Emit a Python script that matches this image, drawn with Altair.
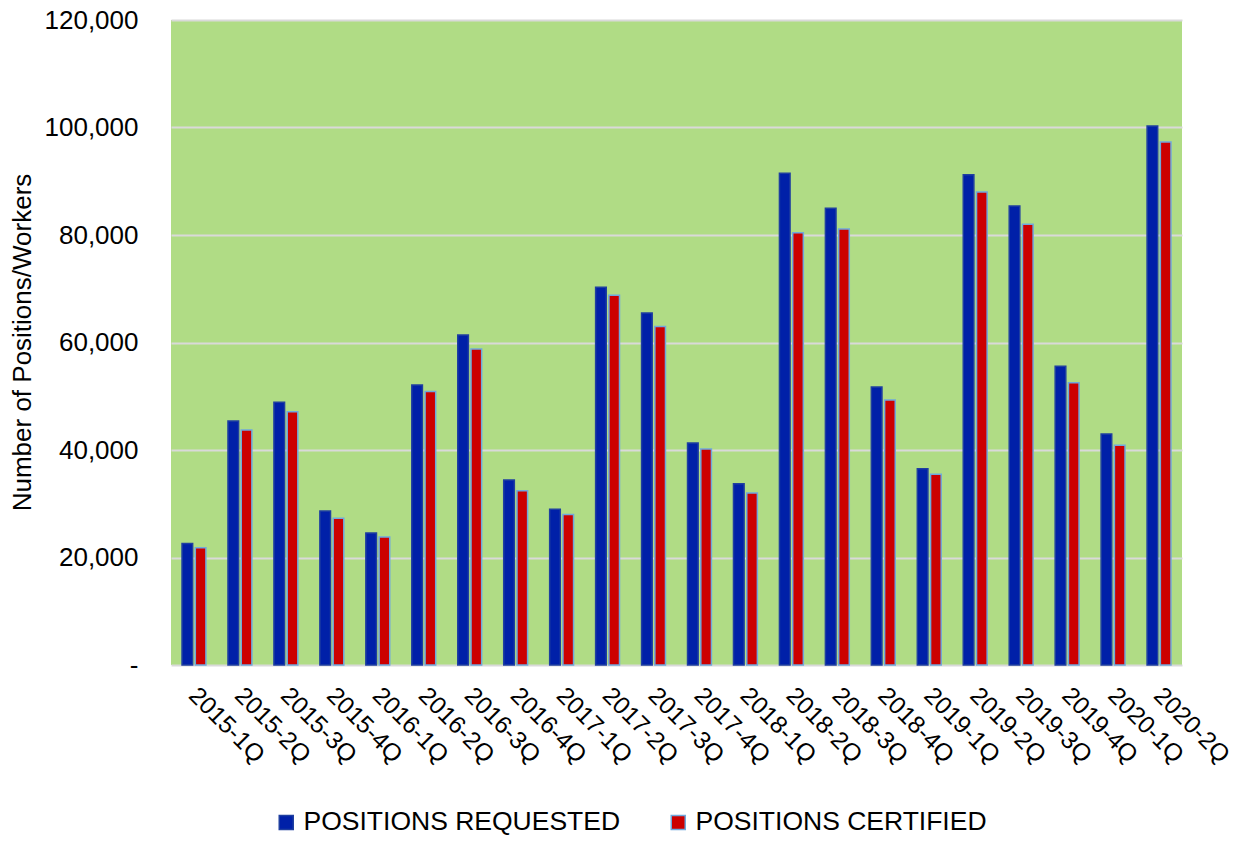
import altair as alt
import pandas as pd

quarters = ["2015-1Q", "2015-2Q", "2015-3Q", "2015-4Q", "2016-1Q", "2016-2Q", "2016-3Q", "2016-4Q",
            "2017-1Q", "2017-2Q", "2017-3Q", "2017-4Q", "2018-1Q", "2018-2Q", "2018-3Q", "2018-4Q",
            "2019-1Q", "2019-2Q", "2019-3Q", "2019-4Q", "2020-1Q", "2020-2Q"]
requested = [22600, 45400, 48900, 28650, 24550, 52100, 61400, 34400, 29000, 70300, 65500,
             41300, 33700, 91500, 85000, 51700, 36500, 91200, 85400, 55600, 43000, 100300]
certified = [21800, 43700, 47100, 27300, 23800, 50900, 58800, 32400, 28000, 68800, 63000,
             40200, 32000, 80400, 81100, 49300, 35500, 88000, 82000, 52500, 40900, 97300]
series = ["POSITIONS REQUESTED", "POSITIONS CERTIFIED"]

rows = []
for q, r, c in zip(quarters, requested, certified):
    rows.append({"quarter": q, "series": series[0], "value": r})
    rows.append({"quarter": q, "series": series[1], "value": c})
df = pd.DataFrame(rows)

FONT = "Liberation Sans"

legend_opts = dict(title=None, orient="none", legendX=102, legendY=789, direction="horizontal",
                   symbolType="square", symbolSize=196, symbolStrokeWidth=1.5,
                   labelFontSize=26.5, labelFont=FONT, labelColor="#000000",
                   columnPadding=44, labelOffset=4, labelLimit=400)

chart = alt.Chart(df).mark_bar(strokeWidth=1.5).encode(
    x=alt.X("quarter:N", sort=quarters,
            scale=alt.Scale(paddingInner=0.48, paddingOuter=0.24),
            axis=alt.Axis(title=None, labelAngle=45, labelAlign="left", labelBaseline="top",
                          labelPadding=18, labelOffset=7, ticks=False, domain=False, labelFontSize=24.5,
                          labelFont=FONT, labelColor="#000000")),
    xOffset=alt.XOffset("series:N", sort=series, scale=alt.Scale(paddingInner=0.2, paddingOuter=0)),
    y=alt.Y("value:Q", scale=alt.Scale(domain=[0, 120000], nice=False),
            axis=alt.Axis(title="Number of Positions/Workers", values=[0, 20000, 40000, 60000, 80000, 100000, 120000],
                          labelExpr="datum.value == 0 ? '-\u00a0\u00a0' : format(datum.value, ',')",
                          ticks=False, domain=False, labelPadding=33, labelFontSize=26, labelFont=FONT,
                          labelColor="#000000", grid=True, gridColor="#d9d9d9", gridWidth=2,
                          titleFontSize=26, titleFont=FONT, titleFontWeight="normal", titleColor="#000000",
                          titleX=-149, titleY=322, titleAngle=-90, titleAlign="center", titleBaseline="middle")),
    fill=alt.Fill("series:N", sort=series,
                  scale=alt.Scale(domain=series, range=["#0020a8", "#cc0000"]),
                  legend=alt.Legend(**legend_opts)),
    stroke=alt.Stroke("series:N", sort=series,
                      scale=alt.Scale(domain=series, range=["#1f3fa0", "#6fa8dc"]),
                      legend=alt.Legend(**legend_opts)),
).properties(
    width=1011, height=645,
    autosize=alt.AutoSizeParams(type="none"),
    padding={"left": 163, "top": 12, "right": 48, "bottom": 172},
).configure_view(
    fill="#b0dc85", stroke=None
)

chart.save("out.html", embed_options={"renderer": "svg", "actions": False})
